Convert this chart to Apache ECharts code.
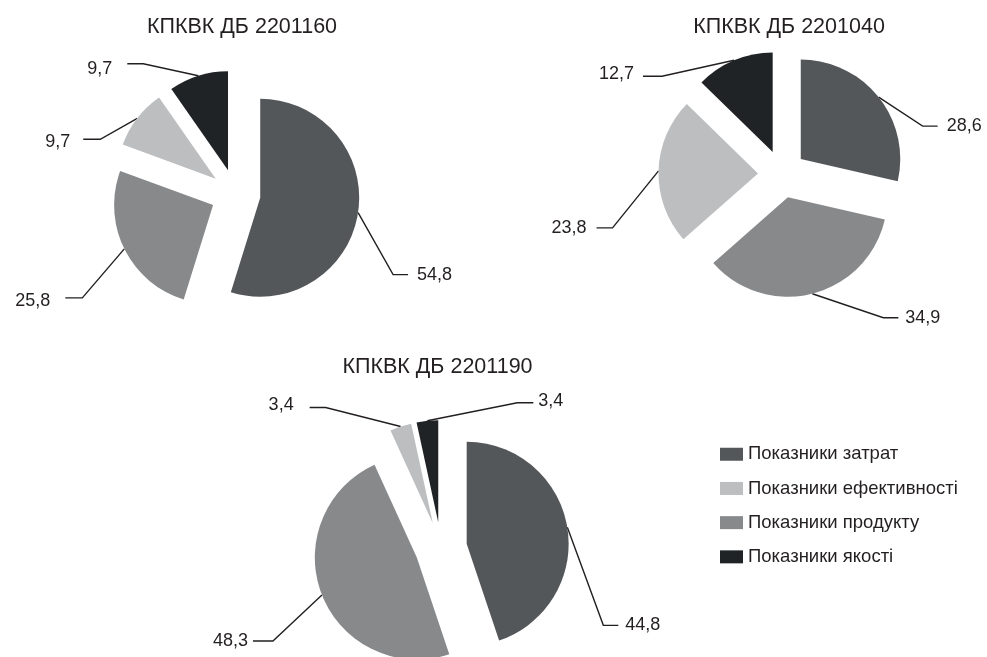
<!DOCTYPE html>
<html>
<head>
<meta charset="utf-8">
<style>
  html, body { margin: 0; padding: 0; background: #ffffff; }
  #chart { width: 987px; height: 657px; }
</style>
<script src="https://cdn.jsdelivr.net/npm/echarts@6/dist/echarts.min.js"></script>
</head>
<body>
<div id="chart"></div>
<script>
// ---- data ----
const categories = ['Показники затрат', 'Показники продукту', 'Показники ефективності', 'Показники якості'];
const legendOrder = ['Показники затрат', 'Показники ефективності', 'Показники продукту', 'Показники якості'];
const chartTitles = ['КПКВК ДБ 2201160', 'КПКВК ДБ 2201040', 'КПКВК ДБ 2201190'];
const values2201160 = [54.8, 25.8, 9.7, 9.7];
const values2201040 = [28.6, 34.9, 23.8, 12.7];
const values2201190 = [44.8, 48.3, 3.4, 3.4];
const seriesValues = [values2201160, values2201040, values2201190];

// ---- styles / layout ----
const palette = ['#54575a', '#87898b', '#bdbebf', '#202325'];
const textColor = '#231f20';
const fontFamily = '"Liberation Sans", Arial, sans-serif';
const DIST = 5;
// per pie: center, radius, explode offset, title position,
// label guides per slice: [elbow dx, elbow dy, horizontal run, text gap, text dy]
const pieLayouts = [
  { center: [235.5, 194], radius: 99, offset: 25, title: [242, 27],
    guides: [[35, 62, 15, 9, 0], [-42, 49, -17, 15, 3], [-37, 21, -17, 13, 3], [-55, -12, -16, 15, 5]] },
  { center: [782, 174], radius: 99.5, offset: 24, title: [789, 27],
    guides: [[44, 29, 15, 9, 0], [71, 24, 15, 7, 0], [-46, 57, -16, 10, 0], [-72, 16, -19, 9, -2]] },
  { center: [441, 548], radius: 102, offset: 26, title: [437.5, 367],
    guides: [[36, 98, 15, 7, 0], [-49, 46, -20, 5, 0], [-75, -19, -16, 16, -2], [90, -18, 16, 5, -2]] }
];

function fmt(v) { return v.toFixed(1).replace('.', ','); }

function makeLabelLayout(guides) {
  return function (p) {
    const g = guides[p.dataIndex];
    const pts = p.labelLinePoints;
    if (!g || !pts || pts.length < 3) return {};
    const p0 = pts[0];
    const sgnDef = (pts[2][0] - pts[1][0]) >= 0 ? 1 : -1;
    const defX = pts[2][0] + sgnDef * DIST;
    const defY = pts[2][1];
    const p1 = [p0[0] + g[0], p0[1] + g[1]];
    const p2 = [p1[0] + g[2], p1[1]];
    const sgnNew = g[2] >= 0 ? 1 : -1;
    const newX = p2[0] + sgnNew * g[3];
    const newY = p2[1] + g[4];
    return {
      dx: newX - defX,
      dy: newY - defY,
      align: sgnNew > 0 ? 'left' : 'right',
      labelLinePoints: [p0, p1, p2]
    };
  };
}

const titles = chartTitles.map(function (t, i) {
  return {
    text: t,
    left: pieLayouts[i].title[0],
    top: pieLayouts[i].title[1],
    textAlign: 'center',
    textVerticalAlign: 'middle',
    padding: 0,
    textStyle: { fontSize: 21.5, fontWeight: 'normal', color: textColor, fontFamily: fontFamily }
  };
});

const series = seriesValues.map(function (vals, i) {
  const L = pieLayouts[i];
  return {
    type: 'pie',
    center: L.center,
    radius: L.radius,
    startAngle: 90,
    clockwise: true,
    selectedMode: 'multiple',
    selectedOffset: L.offset,
    avoidLabelOverlap: false,
    emphasis: { disabled: true },
    itemStyle: { borderWidth: 0 },
    label: {
      show: true,
      position: 'outside',
      distanceToLabelLine: DIST,
      fontSize: 18,
      color: textColor,
      fontFamily: fontFamily,
      formatter: function (p) { return fmt(p.value); }
    },
    labelLine: { show: true, length: 10, length2: 10, smooth: false,
      lineStyle: { color: textColor, width: 1.4 } },
    labelLayout: makeLabelLayout(L.guides),
    data: categories.map(function (c, k) { return { name: c, value: vals[k], selected: true }; })
  };
});

const chart = echarts.init(document.getElementById('chart'), null, { renderer: 'canvas' });
chart.setOption({
  animation: false,
  backgroundColor: '#ffffff',
  color: palette,
  title: titles,
  legend: {
    orient: 'vertical',
    left: 720,
    top: 444.75,
    padding: 0,
    itemWidth: 23,
    itemHeight: 13,
    itemGap: 15.2,
    icon: 'rect',
    selectedMode: false,
    textStyle: { fontSize: 18.5, color: textColor, fontFamily: fontFamily },
    data: legendOrder
  },
  series: series
});
</script>
</body>
</html>
